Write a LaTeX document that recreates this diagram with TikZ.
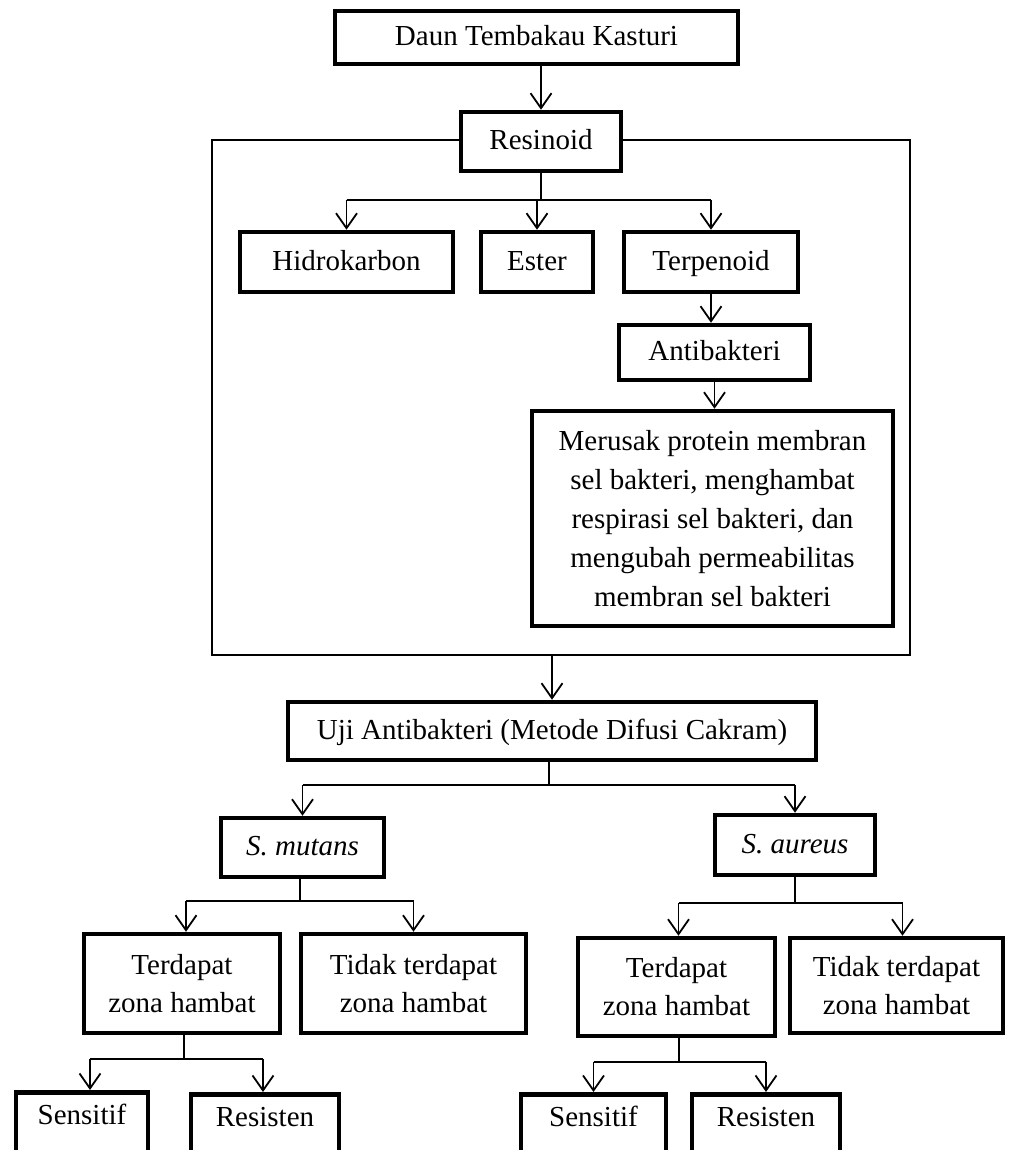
\documentclass[tikz,border=0pt]{standalone}
\usepackage{fontspec}
\setmainfont{Liberation Serif}
\usetikzlibrary{arrows.meta,calc}
\begin{document}
\begin{tikzpicture}[x=1pt,y=-1pt,
  box/.style={draw, line width=4.5pt, fill=white, align=center, inner sep=0pt,
    font=\fontsize{29}{38}\selectfont},
  one/.style={text height=19pt, text depth=3pt},
  botbox/.style={draw, line width=4.5pt, fill=white, anchor=north, inner xsep=2pt, inner ysep=6pt,
    text height=26pt, text depth=60pt, font=\fontsize{29}{38}\selectfont},
  grp/.style={draw, line width=1.8pt, inner sep=0pt},
  ln/.style={line width=1.8pt},
  arr/.style={line width=1.8pt, -{Straight Barb[length=15pt,width=21pt]}}]
\useasboundingbox (0,0) rectangle (1011,1150);
\fill[white] (0,0) rectangle (1011,1150);
\clip (0,0) rectangle (1011,1150);

% frame
\node[grp, minimum width=698pt, minimum height=515pt] (frame) at (561,397.5) {};

\node[box, one, minimum width=403pt, minimum height=53pt] (daun) at (536.5,37.5) {Daun Tembakau Kasturi};
\node[box, one, minimum width=160pt, minimum height=59pt] (res) at (541,141.5) {Resinoid};
\node[box, one, minimum width=213pt, minimum height=60pt] (hid) at (346.5,262) {Hidrokarbon};
\node[box, one, minimum width=112pt, minimum height=60pt] (est) at (537,262) {Ester};
\node[box, one, minimum width=174pt, minimum height=60pt] (ter) at (711,262) {Terpenoid};
\node[box, one, minimum width=191pt, minimum height=55pt] (anti) at (714.5,352.5) {Antibakteri};
\node[box, minimum width=361pt, minimum height=215pt, font=\fontsize{29}{39}\selectfont] (meru) at (712.5,518.5)
  {Merusak protein membran\\sel bakteri, menghambat\\respirasi sel bakteri, dan\\mengubah permeabilitas\\membran sel bakteri};

\node[box, one, minimum width=528pt, minimum height=58pt] (uji) at (552,731) {Uji Antibakteri (Metode Difusi Cakram)};
\node[box, one, minimum width=163pt, minimum height=59pt] (mut) at (302.5,847.5) {\textit{S. mutans}};
\node[box, one, minimum width=160pt, minimum height=60pt] (aur) at (795,845) {\textit{S. aureus}};

\node[box, minimum width=196pt, minimum height=99pt] (terL) at (182,983.5) {Terdapat\\zona hambat};
\node[box, minimum width=225pt, minimum height=99pt] (tidL) at (413.5,983.5) {Tidak terdapat\\zona hambat};
\node[box, minimum width=197pt, minimum height=98pt] (terR) at (676.5,987) {Terdapat\\zona hambat};
\node[box, minimum width=213pt, minimum height=95pt] (tidR) at (896.5,985.5) {Tidak terdapat\\zona hambat};

\node[botbox, minimum width=132pt] (senL) at (82,1090) {Sensitif};
\node[botbox, minimum width=148pt] (resL) at (265,1092) {Resisten};
\node[botbox, minimum width=145pt] (senR) at (593.5,1092) {Sensitif};
\node[botbox, minimum width=148pt] (resR) at (766,1092) {Resisten};

% connectors
\draw[arr] (res.north |- daun.south) -- (res.north);

\coordinate (b1) at (541,200);
\draw[ln] (res.south) -- (b1);
\draw[ln] (hid.north |- b1) -- (ter.north |- b1);
\draw[arr] (hid.north |- b1) -- (hid.north);
\draw[arr] (est.north |- b1) -- (est.north);
\draw[arr] (ter.north |- b1) -- (ter.north);

\draw[arr] (ter.south) -- (ter.south |- anti.north);
\draw[arr] (anti.south) -- (anti.south |- meru.north);

\draw[arr] (frame.south -| uji.north) -- (uji.north);

\coordinate (b2) at (549,785);
\draw[ln] (uji.south -| b2) -- (b2);
\draw[ln] (mut.north |- b2) -- (aur.north |- b2);
\draw[arr] (mut.north |- b2) -- (mut.north);
\draw[arr] (aur.north |- b2) -- (aur.north);

\coordinate (b3) at (300,901);
\draw[ln] (mut.south -| b3) -- (b3);
\draw[ln] ([xshift=4pt]terL.north |- b3) -- (tidL.north |- b3);
\draw[arr] ([xshift=4pt]terL.north |- b3) -- ([xshift=4pt]terL.north);
\draw[arr] (tidL.north |- b3) -- (tidL.north);

\coordinate (b4) at (795,903);
\draw[ln] (aur.south -| b4) -- (b4);
\draw[ln] ([xshift=2pt]terR.north |- b4) -- ([xshift=6pt]tidR.north |- b4);
\draw[arr] ([xshift=2pt]terR.north |- b4) -- ([xshift=2pt]terR.north);
\draw[arr] ([xshift=6pt]tidR.north |- b4) -- ([xshift=6pt]tidR.north);

\coordinate (b5) at (184,1059);
\draw[ln] (terL.south -| b5) -- (b5);
\draw[ln] ([xshift=8pt]senL.north |- b5) -- ([xshift=-2pt]resL.north |- b5);
\draw[arr] ([xshift=8pt]senL.north |- b5) -- ([xshift=8pt]senL.north);
\draw[arr] ([xshift=-2pt]resL.north |- b5) -- ([xshift=-2pt]resL.north);

\coordinate (b6) at (679,1062);
\draw[ln] (terR.south -| b6) -- (b6);
\draw[ln] (senR.north |- b6) -- (resR.north |- b6);
\draw[arr] (senR.north |- b6) -- (senR.north);
\draw[arr] (resR.north |- b6) -- (resR.north);
\end{tikzpicture}
\end{document}
